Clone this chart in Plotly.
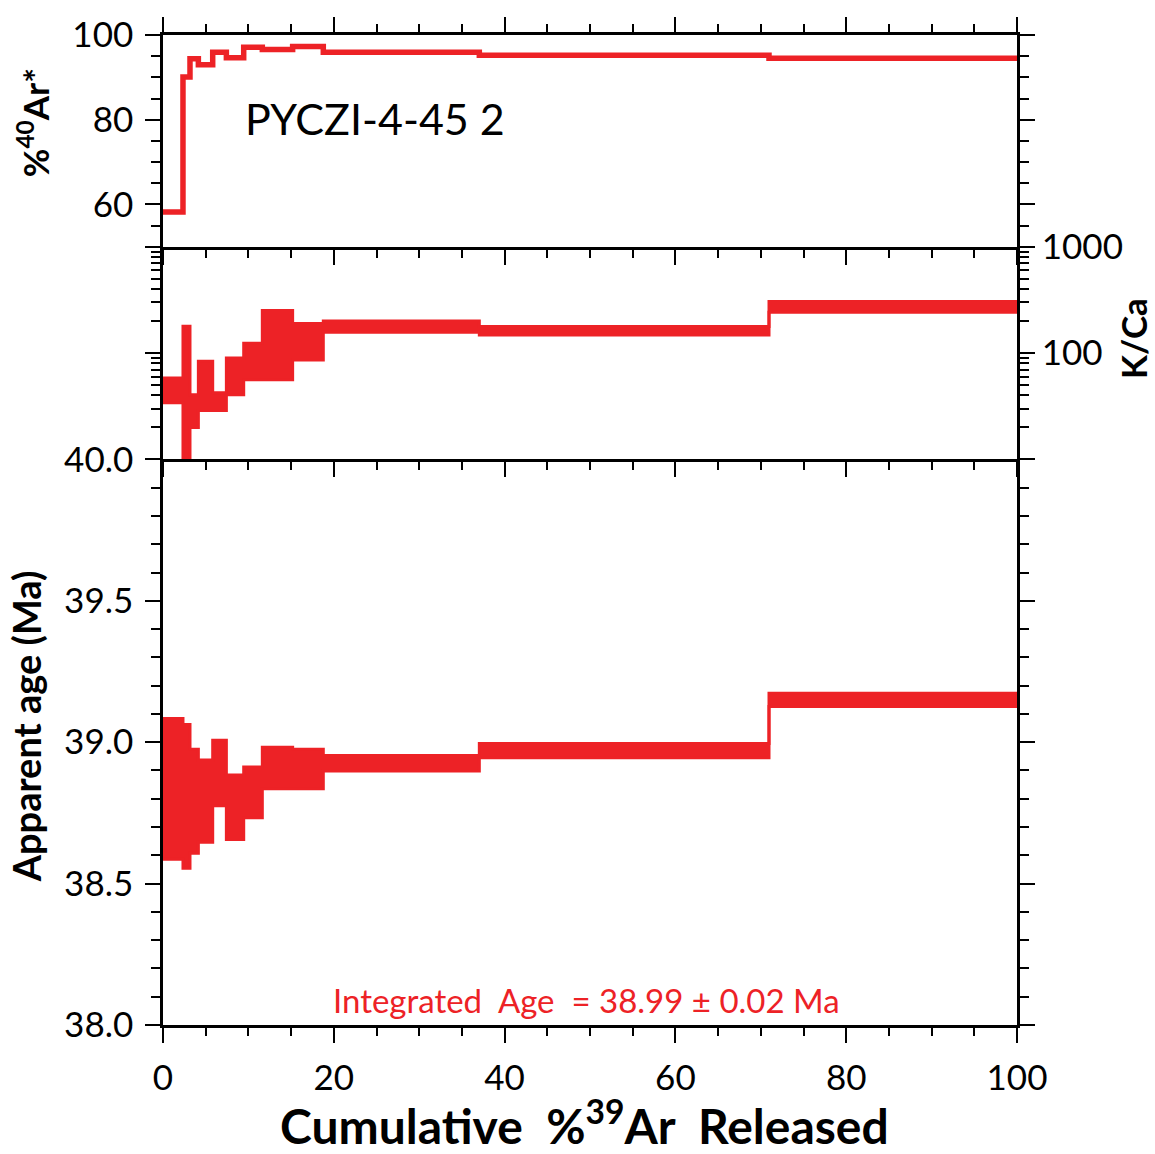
import plotly.graph_objects as go

# Step heating results, one entry per heating step
cum39 = [0, 2.34, 3.16, 4.14, 5.82, 7.42, 9.45, 11.63, 15.18, 18.77, 37.04, 70.96, 100]
ar40_rad = [58.2, 90.1, 94.4, 93.0, 95.9, 94.6, 97.1, 96.6, 97.3, 95.9, 95.2, 94.5]
kca_low = [34.2, 8.0, 20.0, 28.8, 28.8, 40.5, 56.0, 56.0, 86.0, 157.0, 148.0, 242.0]
kca_high = [58.4, 179.0, 40.5, 84.0, 42.3, 89.8, 124.0, 252.0, 190.0, 200.0, 178.0, 306.0]
age_low = [38.586, 38.554, 38.607, 38.646, 38.775, 38.656, 38.733, 38.835, 38.835, 38.898, 38.945, 39.126]
age_high = [39.084, 39.063, 38.975, 38.937, 39.007, 38.884, 38.912, 38.982, 38.975, 38.953, 38.995, 39.173]

sample_name = "PYCZI-4-45 2"
integrated_age = "38.99"
integrated_err = "0.02"

RED = "#ED2226"
FONT = "Lato"
NB = "\u00a0"


def steps(values):
    # start of each step plus the closing edge at 100 %
    xs = list(cum39[:-1]) + [cum39[-1]]
    ys = list(values) + [values[-1]]
    return xs, ys


fig = go.Figure()

# %40Ar* spectrum (top panel)
x, y = steps(ar40_rad)
fig.add_trace(go.Scatter(x=x, y=y, mode="lines", line=dict(color=RED, width=5.5, shape="hv"),
                         xaxis="x3", yaxis="y3", hoverinfo="skip"))

# K/Ca spectrum (middle panel)
x, yl = steps(kca_low)
_, yh = steps(kca_high)
fig.add_trace(go.Scatter(x=x, y=yl, mode="lines", line=dict(color=RED, width=3, shape="hv"),
                         xaxis="x2", yaxis="y2", hoverinfo="skip"))
fig.add_trace(go.Scatter(x=x, y=yh, mode="lines", line=dict(color=RED, width=3, shape="hv"),
                         fill="tonexty", fillcolor=RED, xaxis="x2", yaxis="y2", hoverinfo="skip"))

# Age spectrum (bottom panel)
x, yl = steps(age_low)
_, yh = steps(age_high)
fig.add_trace(go.Scatter(x=x, y=yl, mode="lines", line=dict(color=RED, width=3, shape="hv"),
                         xaxis="x", yaxis="y", hoverinfo="skip"))
fig.add_trace(go.Scatter(x=x, y=yh, mode="lines", line=dict(color=RED, width=3, shape="hv"),
                         fill="tonexty", fillcolor=RED, xaxis="x", yaxis="y", hoverinfo="skip"))

tick_font = dict(family=FONT, size=35, color="black")
common_x = dict(range=[0, 100], dtick=20, tick0=0, ticks="outside", ticklen=15, tickwidth=2,
                tickcolor="black", showline=True, linecolor="black", linewidth=2.5,
                showgrid=False, zeroline=False, tickfont=tick_font,
                minor=dict(dtick=5, ticks="outside", ticklen=8, tickwidth=2, tickcolor="black"))
common_y = dict(ticks="outside", ticklen=15, tickwidth=2, tickcolor="black", showline=True,
                linecolor="black", linewidth=2.5, showgrid=False, zeroline=False,
                tickfont=tick_font, mirror="ticks")

log_minor = [20, 30, 40, 50, 60, 70, 80, 90, 200, 300, 400, 500, 600, 700, 800, 900]

fig.update_layout(
    width=1155, height=1154,
    margin=dict(l=163, r=138, t=29, b=129),
    paper_bgcolor="white", plot_bgcolor="white",
    showlegend=False,
    xaxis=dict(common_x, anchor="y", mirror=False, showticklabels=True, ticklabelstandoff=5),
    xaxis2=dict(common_x, anchor="y2", mirror=False, showticklabels=False),
    xaxis3=dict(common_x, anchor="y3", mirror="ticks", showticklabels=False),
    yaxis=dict(common_y, domain=[0, 0.5713], range=[38.0, 40.0], dtick=0.5, tick0=38,
               tickformat=".1f", ticklabelstandoff=5,
               minor=dict(dtick=0.1, ticks="outside", ticklen=9, tickwidth=2, tickcolor="black")),
    yaxis2=dict(common_y, domain=[0.5713, 0.7861], type="log", range=[1, 3], side="right",
                anchor="x2", tickvals=[100, 1000], ticktext=["100", "1000"], ticklabelstandoff=0,
                minor=dict(tickvals=log_minor, ticks="outside", ticklen=9, tickwidth=2,
                           tickcolor="black")),
    yaxis3=dict(common_y, domain=[0.7861, 1.0], range=[50, 100], dtick=20, tick0=60,
                anchor="x3", ticklabelstandoff=5,
                minor=dict(dtick=5, ticks="outside", ticklen=9, tickwidth=2, tickcolor="black")),
)

annotations = [
    dict(text=sample_name, x=9.4, y=80.3, xref="x3", yref="y3", xanchor="left",
         yanchor="middle", showarrow=False, font=dict(family=FONT, size=43, color="black")),
    dict(text=f"Integrated{NB}{NB}Age{NB}{NB}={NB}{integrated_age}{NB}±{NB}{integrated_err}{NB}Ma",
         x=49.6, y=38.09, xref="x", yref="y", xanchor="center", yanchor="middle",
         showarrow=False, font=dict(family=FONT, size=33, color=RED)),
    dict(text="<b>%<sup>40</sup>Ar*</b>", x=-0.152, y=0.911, xref="paper", yref="paper",
         textangle=-90, showarrow=False, xanchor="center", yanchor="middle",
         font=dict(family=FONT, size=35, color="black")),
    dict(text="<b>Apparent age (Ma)</b>", x=-0.161, y=0.3012, xref="paper", yref="paper",
         textangle=-90, showarrow=False, xanchor="center", yanchor="middle",
         font=dict(family=FONT, size=38, color="black")),
    dict(text="<b>K/Ca</b>", x=1.1358, y=0.6940, xref="paper", yref="paper",
         textangle=-90, showarrow=False, xanchor="center", yanchor="middle",
         font=dict(family=FONT, size=35, color="black")),
    dict(text=f"<b>Cumulative{NB}{NB}%<sup>39</sup>Ar{NB}{NB}Released</b>", x=0.493, y=-0.098,
         xref="paper", yref="paper", showarrow=False, xanchor="center", yanchor="middle",
         borderpad=0, font=dict(family=FONT, size=48, color="black")),
]
fig.update_layout(annotations=annotations)

fig.write_html("out.html")
